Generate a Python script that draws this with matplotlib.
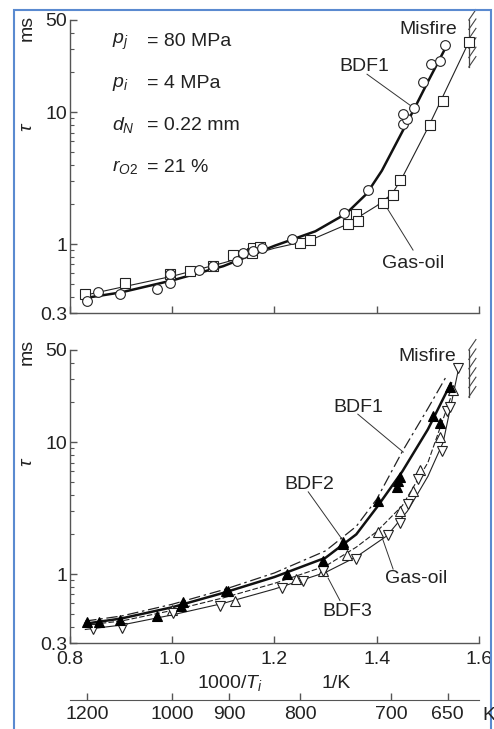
import numpy as np
import matplotlib
matplotlib.use("Agg")
import matplotlib.pyplot as plt
from matplotlib.patches import Rectangle
from matplotlib.ticker import LogLocator, NullFormatter, FixedLocator, FixedFormatter

plt.rcParams['font.family'] = ['Liberation Sans', 'DejaVu Sans']
plt.rcParams['mathtext.fontset'] = 'custom'
plt.rcParams['mathtext.rm'] = 'Liberation Sans'
plt.rcParams['mathtext.it'] = 'Liberation Sans:italic'
plt.rcParams['mathtext.bf'] = 'Liberation Sans:bold'

# ---------------- data: top panel ----------------
top_bdf1_x = [0.833, 0.855, 0.898, 0.97, 0.996, 0.996, 1.052, 1.08, 1.126, 1.138, 1.158,
              1.175, 1.234, 1.336, 1.383, 1.451, 1.459, 1.451, 1.473, 1.49, 1.506, 1.524, 1.534]
top_bdf1_y = [0.37, 0.43, 0.42, 0.46, 0.51, 0.59, 0.64, 0.68, 0.74, 0.86, 0.88,
              0.93, 1.09, 1.73, 2.55, 8.2, 8.9, 9.7, 10.7, 16.8, 23.0, 24.3, 32.4]
top_bdf1_line_x = [0.83, 0.9, 1.0, 1.1, 1.2, 1.28, 1.34, 1.38, 1.41, 1.44, 1.47, 1.5, 1.535]
top_bdf1_line_y = [0.39, 0.43, 0.53, 0.68, 0.97, 1.25, 1.7, 2.4, 3.6, 6.0, 10.0, 17.0, 31.0]

top_gas_x = [0.829, 0.908, 0.996, 1.035, 1.08, 1.119, 1.156, 1.158, 1.171, 1.25, 1.269,
             1.344, 1.36, 1.363, 1.412, 1.431, 1.445, 1.505, 1.529, 1.58]
top_gas_y = [0.42, 0.51, 0.59, 0.62, 0.68, 0.83, 0.86, 0.93, 0.95, 1.02, 1.07,
             1.41, 1.7, 1.5, 2.06, 2.34, 3.08, 8.05, 12.1, 34.0]
top_gas_line_x = [0.83, 0.9, 1.0, 1.1, 1.2, 1.27, 1.34, 1.4, 1.43, 1.45, 1.5, 1.58]
top_gas_line_y = [0.41, 0.47, 0.57, 0.72, 0.93, 1.07, 1.4, 1.95, 2.4, 3.2, 7.6, 34.0]

# ---------------- data: bottom panel ----------------
bot_bdf1_line_x = [0.83, 0.9, 1.0, 1.1, 1.2, 1.3, 1.36, 1.4, 1.45, 1.5, 1.537]
bot_bdf1_line_y = [0.44, 0.48, 0.59, 0.76, 1.02, 1.5, 2.3, 3.7, 8.5, 18.0, 32.0]

bot_bdf2_x = [0.833, 0.857, 0.898, 0.97, 1.018, 1.022, 1.106, 1.11, 1.224, 1.295, 1.334,
              1.334, 1.403, 1.439, 1.442, 1.446, 1.51, 1.523, 1.543]
bot_bdf2_y = [0.43, 0.43, 0.45, 0.48, 0.57, 0.61, 0.75, 0.75, 1.0, 1.25, 1.7,
              1.75, 3.56, 4.57, 5.1, 5.4, 15.8, 14.0, 26.0]
bot_bdf2_line_x = [0.83, 0.9, 1.0, 1.1, 1.2, 1.3, 1.36, 1.4, 1.45, 1.5, 1.545]
bot_bdf2_line_y = [0.42, 0.46, 0.56, 0.72, 0.95, 1.33, 2.0, 3.2, 6.0, 12.5, 28.0]

bot_gas_x = [1.0, 1.123, 1.243, 1.295, 1.341, 1.403, 1.445, 1.471, 1.485, 1.523, 1.549]
bot_gas_y = [0.53, 0.63, 0.91, 1.05, 1.4, 2.1, 3.0, 4.3, 6.2, 11.0, 25.0]
bot_gas_line_x = [0.83, 0.9, 1.0, 1.1, 1.2, 1.3, 1.36, 1.4, 1.45, 1.5, 1.55]
bot_gas_line_y = [0.41, 0.44, 0.53, 0.66, 0.85, 1.15, 1.6, 2.1, 3.3, 7.0, 25.0]

bot_bdf3_x = [0.845, 0.901, 1.002, 1.093, 1.214, 1.256, 1.295, 1.36, 1.422, 1.445, 1.461,
              1.48, 1.527, 1.537, 1.543, 1.559]
bot_bdf3_y = [0.38, 0.39, 0.51, 0.57, 0.79, 0.89, 1.05, 1.29, 1.97, 2.45, 3.4,
              5.3, 8.5, 17.2, 18.6, 36.8]
bot_bdf3_line_x = [0.83, 0.9, 1.0, 1.1, 1.2, 1.3, 1.36, 1.42, 1.46, 1.5, 1.53, 1.56]
bot_bdf3_line_y = [0.38, 0.41, 0.49, 0.60, 0.77, 1.03, 1.35, 1.95, 3.0, 5.5, 10.0, 36.0]

misfire_x = 1.58
misfire_y = [22.0, 50.0]

x_ticks = [0.8, 1.0, 1.2, 1.4, 1.6]
x_ticklabels = ['0.8', '1.0', '1.2', '1.4', '1.6']
y_ticks = [0.3, 1, 10, 50]
y_ticklabels = ['0.3', '1', '10', '50']
t_ticks = [1200, 1000, 900, 800, 700, 650]
t_ticklabels = ['1200', '1000', '900', '800', '700', '650']

param_names = [r'$p_{j}$', r'$p_{i}$', r'$d_{N}$', r'$r_{O2}$']
param_values = ['= 80 MPa', '= 4 MPa', '= 0.22 mm', '= 21 %']

# ---------------- figure ----------------
W, H = 494, 729
fig = plt.figure(figsize=(W / 100, H / 100), dpi=100)
TXT = '#222222'
SP = '#555555'
FS = 14

def fx(px):
    return px / W

def fy(py):
    return 1 - py / H

ax1 = fig.add_axes([fx(70), fy(313), fx(479) - fx(70), fy(20) - fy(313)])
ax2 = fig.add_axes([fx(70), fy(643), fx(479) - fx(70), fy(350) - fy(643)])

for ax in (ax1, ax2):
    ax.set_xscale('linear')
    ax.set_yscale('log')
    ax.set_xlim(0.8, 1.6)
    ax.set_ylim(0.3, 50)
    for s in ('top', 'right'):
        ax.spines[s].set_visible(False)
    for s in ('left', 'bottom'):
        ax.spines[s].set_color(SP)
        ax.spines[s].set_linewidth(1.0)
    ax.yaxis.set_major_locator(FixedLocator(y_ticks))
    ax.yaxis.set_major_formatter(FixedFormatter(y_ticklabels))
    ax.yaxis.set_minor_locator(LogLocator(base=10, subs=np.arange(2, 10)))
    ax.yaxis.set_minor_formatter(NullFormatter())
    ax.set_xticks(x_ticks)
    ax.tick_params(axis='both', which='major', direction='in', length=5, width=1,
                   color=SP, labelsize=FS, labelcolor=TXT, pad=2)
    ax.tick_params(axis='y', which='minor', direction='in', length=3, width=0.8, color=SP)
    ax.patch.set_alpha(0)

ax1.set_xticklabels([])
ax2.set_xticklabels(x_ticklabels)
ax2.tick_params(axis='x', pad=6)

# ---- top panel ----
ax1.plot(top_gas_line_x, top_gas_line_y, color='#222', lw=0.8, zorder=2)
ax1.plot(top_bdf1_line_x, top_bdf1_line_y, color='#111', lw=1.8, zorder=2)
ax1.plot(top_gas_x, top_gas_y, ls='none', marker='s', ms=6.5, mfc='white', mec='#222', mew=0.8, zorder=3)
ax1.plot(top_bdf1_x, top_bdf1_y, ls='none', marker='o', ms=7, mfc='white', mec='#222', mew=0.8, zorder=3)

for i, (nm, val) in enumerate(zip(param_names, param_values)):
    yy = 0.925 - i * 0.1425
    ax1.text(0.103, yy, nm, transform=ax1.transAxes, fontsize=FS,
             color=TXT, va='center', ha='left')
    ax1.text(0.188, yy, val, transform=ax1.transAxes, fontsize=FS,
             color=TXT, va='center', ha='left')

ax1.text(1.50, 42, 'Misfire', fontsize=FS, color=TXT, ha='center', va='center')
ax1.text(1.375, 22.3, 'BDF1', fontsize=FS, color=TXT, ha='center', va='center')
ax1.plot([1.381, 1.465], [19.4, 11.3], color='#333', lw=0.7)
ax1.text(1.471, 0.71, 'Gas-oil', fontsize=FS, color=TXT, ha='center', va='center')
ax1.plot([1.42, 1.471], [1.88, 0.90], color='#333', lw=0.7)

# ---- bottom panel ----
ax2.plot(bot_bdf1_line_x, bot_bdf1_line_y, color='#222', lw=0.9, ls=(0, (9, 3, 2, 3)), zorder=2)
ax2.plot(bot_gas_line_x, bot_gas_line_y, color='#222', lw=0.8, ls=(0, (5, 2)), zorder=2)
ax2.plot(bot_bdf3_line_x, bot_bdf3_line_y, color='#222', lw=0.8, zorder=2)
ax2.plot(bot_bdf2_line_x, bot_bdf2_line_y, color='#111', lw=1.8, zorder=2)
ax2.plot(bot_gas_x, bot_gas_y, ls='none', marker='^', ms=7, mfc='white', mec='#222', mew=0.8, zorder=3)
ax2.plot(bot_bdf3_x, bot_bdf3_y, ls='none', marker='v', ms=7, mfc='white', mec='#222', mew=0.8, zorder=3)
ax2.plot(bot_bdf2_x, bot_bdf2_y, ls='none', marker='^', ms=7.5, mfc='black', mec='black', mew=0.8, zorder=4)

ax2.text(1.498, 45, 'Misfire', fontsize=FS, color=TXT, ha='center', va='center')
ax2.text(1.363, 18.4, 'BDF1', fontsize=FS, color=TXT, ha='center', va='center')
ax2.plot([1.363, 1.452], [16.3, 8.4], color='#333', lw=0.7)
ax2.text(1.269, 4.8, 'BDF2', fontsize=FS, color=TXT, ha='center', va='center')
ax2.plot([1.266, 1.332], [4.2, 1.84], color='#333', lw=0.7)
ax2.text(1.477, 0.92, 'Gas-oil', fontsize=FS, color=TXT, ha='center', va='center')
ax2.plot([1.432, 1.407], [1.09, 2.07], color='#333', lw=0.7)
ax2.text(1.342, 0.52, 'BDF3', fontsize=FS, color=TXT, ha='center', va='center')
ax2.plot([1.328, 1.305], [0.63, 0.93], color='#333', lw=0.7)

# misfire boundary with hatching
for ax in (ax1, ax2):
    ax.plot([misfire_x, misfire_x], misfire_y, color='#444', lw=0.9, clip_on=False)
    ys = np.geomspace(misfire_y[0], misfire_y[1], 6)
    for yy in ys:
        ax.plot([misfire_x, misfire_x + 0.014], [yy, yy * 1.2], color='#444', lw=0.8, clip_on=False)

# y labels
for ax, py_tau, py_ms in ((ax1, 127, 28), (ax2, 462, 352)):
    fig.text(fx(27), fy(py_tau), r'$\tau$', fontsize=FS, color=TXT, rotation=90, ha='center', va='center')
    fig.text(fx(27), fy(py_ms), 'ms', fontsize=FS, color=TXT, rotation=90, ha='center', va='center')

# x label
fig.text(fx(230), fy(683), r'1000/$T_{i}$', fontsize=FS, color=TXT, ha='center', va='center')
fig.text(fx(336), fy(683), '1/K', fontsize=FS, color=TXT, ha='center', va='center')

# secondary temperature axis
sec = ax2.secondary_xaxis((643 - 700) / (643 - 350),
                          functions=(lambda x: 1000.0 / np.asarray(x, dtype=float),
                                     lambda t: 1000.0 / np.asarray(t, dtype=float)))
sec.set_xticks(t_ticks)
sec.set_xticklabels(t_ticklabels)
sec.spines['bottom'].set_color(SP)
sec.tick_params(axis='x', direction='in', length=5, width=1, color=SP, labelsize=FS,
                labelcolor=TXT, pad=4)
fig.text(fx(482), fy(716), 'K', fontsize=FS, color=TXT, ha='left', va='center')

# blue frame
fig.patches.append(Rectangle((fx(14), -0.05), fx(491) - fx(14), fy(10) + 0.05,
                             transform=fig.transFigure, fill=False, edgecolor='#5a8ad0', lw=1.5))

fig.savefig('out.png', dpi=100)
